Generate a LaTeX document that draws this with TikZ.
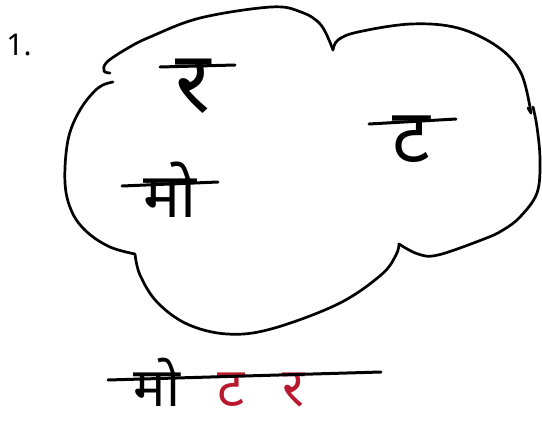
\documentclass[tikz,border=0pt]{standalone}
\usepackage{fontspec}
\newfontfamily\deva[Script=Devanagari]{Noto Sans}
\definecolor{handred}{RGB}{185,25,45}
\tikzset{
  pen/.style={line width=2.7pt, line cap=round, line join=round, black},
  letter/.style={inner sep=0pt, anchor=base, text depth=0pt},
  headline/.style={line width=3pt, line cap=round, black},
}
\begin{document}
\begin{tikzpicture}[x=1pt,y=-1pt]
\useasboundingbox (0,0) rectangle (542,424);
% number
\node[inner sep=0pt, font=\deva\fontsize{30}{32}\selectfont] (num) at (19,45) {1.};
% cloud outline
\draw[pen] plot[smooth, tension=0.6] coordinates {(110,73) (104,71) (107,62) (128,48) (150,37) (200,18) (271,7) (301,12) (321,25) (333,50)};
\draw[pen] plot[smooth, tension=0.6] coordinates {(333,50) (338,40) (358,32) (411,24) (458,28) (498,47) (521,73) (531,113)};
\draw[pen] (531,113) -- (528,108);
\draw[pen] plot[smooth, tension=0.6] coordinates {(533,107) (537,127) (540,160) (537,193) (520,217) (503,230) (484,239) (438,255) (418,254) (399,244)};
\draw[pen] plot[smooth, tension=0.6] coordinates {(399,244) (396,255) (381,275) (338,304) (271,329) (227,334) (187,324) (157,302) (140,275) (135,254)};
\draw[pen] plot[smooth, tension=0.6] coordinates {(135,254) (110,247) (87,232) (72,212) (65,183) (68,140) (80,110) (98,88) (113,82)};
% letters inside the cloud
\node[letter, font=\deva\fontsize{86}{88}\selectfont] (ra) at (193,112) {र};
\draw[headline] (160,67) coordinate (raL) -- (235,65) coordinate (raR);
\node[letter, font=\deva\fontsize{75}{77}\selectfont] (ta) at (411,162) {ट};
\draw[headline] (369,124) coordinate (taL) -- (456,119) coordinate (taR);
\node[letter, font=\deva\fontsize{62}{64}\selectfont] (mo) at (170,217) {मो};
\draw[headline] (122,186) coordinate (moL) -- (218,182) coordinate (moR);
% word below
\node[letter, font=\deva\fontsize{54}{56}\selectfont] (wmo) at (157,406) {मो};
\node[letter, font=\deva\fontsize{54}{56}\selectfont, text=handred] (wta) at (231,406) {ट};
\node[letter, font=\deva\fontsize{54}{56}\selectfont, text=handred] (wra) at (294,406) {र};
\draw[headline] (108,380) coordinate (wL) -- (381,372) coordinate (wR);
\end{tikzpicture}
\end{document}
